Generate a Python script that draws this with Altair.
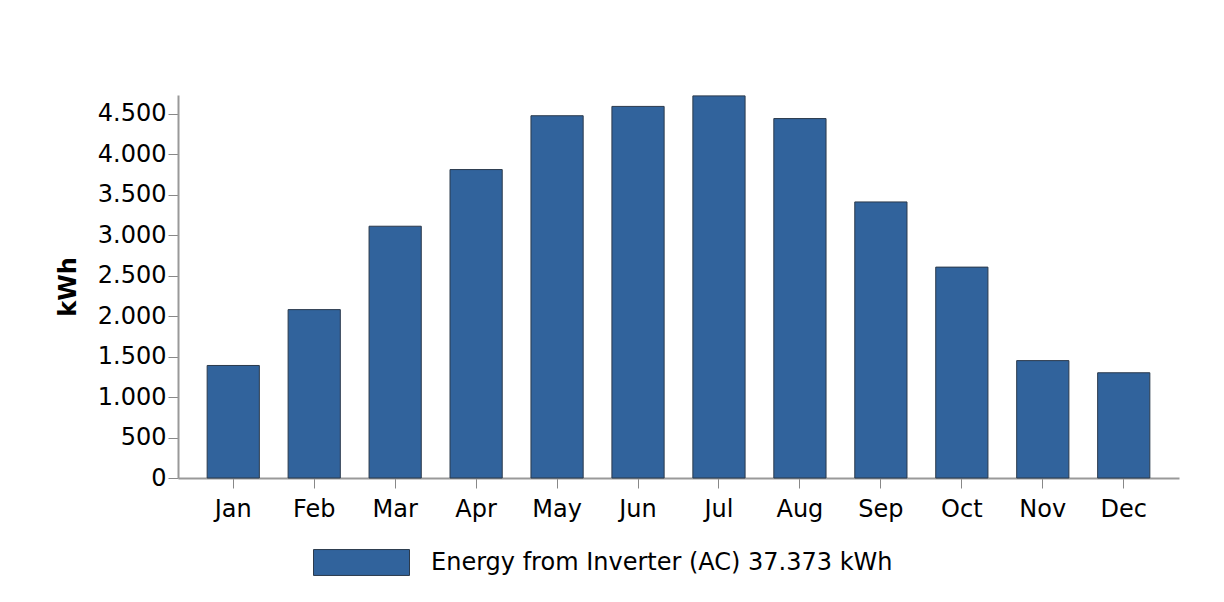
import altair as alt
import pandas as pd

months = ["Jan", "Feb", "Mar", "Apr", "May", "Jun", "Jul", "Aug", "Sep", "Oct", "Nov", "Dec"]
energy_kwh = [1390, 2080, 3110, 3810, 4475, 4590, 4720, 4440, 3410, 2605, 1450, 1300]
series_name = "Energy from Inverter (AC) 37.373 kWh"
y_ticks = [0, 500, 1000, 1500, 2000, 2500, 3000, 3500, 4000, 4500]

df = pd.DataFrame({"month": months, "kwh": energy_kwh, "series": [series_name] * len(months)})

FONT = "DejaVu Sans"
BAR = "#31639c"
TXT = "#000000"

chart = alt.Chart(df).mark_bar(
    fill=BAR, stroke="#2b3a4c", strokeWidth=1
).encode(
    x=alt.X("month:N", sort=months, title=None,
            scale=alt.Scale(paddingInner=0.355, paddingOuter=0.36),
            axis=alt.Axis(labelAngle=0, labelFontSize=24, labelFont=FONT, labelColor=TXT,
                          tickSize=10, tickColor="#888", domainColor="#999", domainWidth=2,
                          labelPadding=9, grid=False)),
    y=alt.Y("kwh:Q", title="kWh",
            scale=alt.Scale(domain=[0, 4731], nice=False),
            axis=alt.Axis(values=y_ticks, labelFontSize=24, labelFont=FONT, labelColor=TXT,
                          labelExpr="replace(format(datum.value, ','), ',', '.')",
                          tickSize=10, tickColor="#888", domainColor="#999", domainWidth=2,
                          labelPadding=2, grid=False,
                          titleFont=FONT, titleFontSize=24, titleFontWeight="bold",
                          titleColor=TXT, titlePadding=17)),
    color=alt.Color("series:N", scale=alt.Scale(range=[BAR]),
                    legend=alt.Legend(title=None, orient="none", legendX=135, legendY=419,
                                      symbolType="M-1,-0.27L1,-0.27L1,0.27L-1,0.27Z",
                                      symbolSize=9216, symbolStrokeColor="#2b3a4c",
                                      symbolStrokeWidth=1, symbolFillColor=BAR,
                                      labelFontSize=24, labelFont=FONT, labelColor=TXT,
                                      labelOffset=21, labelLimit=800, padding=0)),
).properties(
    width=1001, height=383,
    autosize=alt.AutoSizeParams(type="none"),
    padding={"left": 170, "top": 87, "right": 30, "bottom": 110},
).configure(background="white").configure_view(strokeWidth=0)

chart.save("out.html", embed_options={"renderer": "svg", "actions": False})
